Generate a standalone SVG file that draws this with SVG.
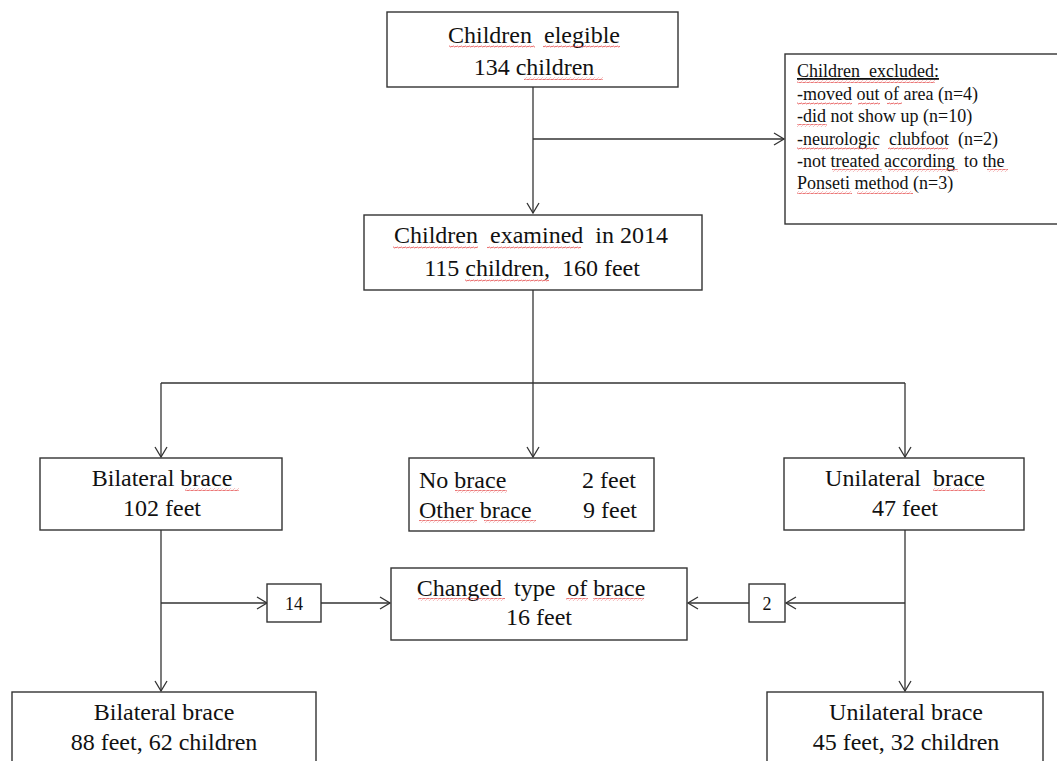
<svg xmlns="http://www.w3.org/2000/svg" width="1057" height="761" viewBox="0 0 1057 761">
<defs>
<style>
.box{fill:#fff;stroke:#333;stroke-width:1.4}
.t{font-family:"Liberation Serif","Times New Roman",serif;font-size:24px;fill:#111}
.s{font-family:"Liberation Serif","Times New Roman",serif;font-size:18px;fill:#111}
.c{text-anchor:middle}
.e{text-anchor:end}
.ln{fill:none;stroke:#333;stroke-width:1.3}
.w{fill:url(#wavy)}
</style>
<marker id="ah" viewBox="-12 -7 14 14" markerWidth="14" markerHeight="14" refX="0" refY="0" orient="auto" markerUnits="userSpaceOnUse">
<path d="M-10,-6 L0,0 L-10,6" fill="none" stroke="#333" stroke-width="1.3"/>
</marker>
<pattern id="wavy" patternUnits="userSpaceOnUse" width="4" height="3">
<path d="M0,2.2 L1,0.8 L3,2.2 L4,0.8" fill="none" stroke="#e23a3a" stroke-width="0.7"/>
</pattern>
</defs>
<rect width="1057" height="761" fill="#fff"/>

<g id="connectors">
<path class="ln" d="M533,87 V213" marker-end="url(#ah)"/>
<path class="ln" d="M533,139 H784" marker-end="url(#ah)"/>
<path class="ln" d="M533,290 V457" marker-end="url(#ah)"/>
<path class="ln" d="M161,383 H905"/>
<path class="ln" d="M161,383 V457" marker-end="url(#ah)"/>
<path class="ln" d="M905,383 V457" marker-end="url(#ah)"/>
<path class="ln" d="M161,530 V691" marker-end="url(#ah)"/>
<path class="ln" d="M161,603 H267" marker-end="url(#ah)"/>
<path class="ln" d="M321,603 H390" marker-end="url(#ah)"/>
<path class="ln" d="M905,530 V691" marker-end="url(#ah)"/>
<path class="ln" d="M905,603 H786" marker-end="url(#ah)"/>
<path class="ln" d="M749,603 H688" marker-end="url(#ah)"/>
</g>

<g id="eligible">
<rect class="box" x="387" y="12" width="291" height="75"/>
<text class="t c" x="534" y="43" xml:space="preserve">Children  elegible</text>
<text class="t c" x="534" y="75">134 children</text>
<rect class="w" x="449" y="45" width="86" height="3"/>
<rect class="w" x="543" y="45" width="77" height="3"/>
<rect class="w" x="524" y="77" width="79" height="3"/>
</g>

<g id="excluded">
<rect class="box" x="785" y="54" width="280" height="170"/>
<text class="s" x="797" y="77" xml:space="preserve" text-decoration="underline">Children  excluded:</text>
<text class="s" x="797" y="100">-moved out of area (n=4)</text>
<text class="s" x="797" y="122">-did not show up (n=10)</text>
<text class="s" x="797" y="145" xml:space="preserve">-neurologic  clubfoot  (n=2)</text>
<text class="s" x="797" y="167" xml:space="preserve">-not treated according  to the</text>
<text class="s" x="797" y="189">Ponseti method (n=3)</text>
<rect class="w" x="797" y="80" width="138" height="3"/>
<rect class="w" x="797" y="102" width="55" height="3"/>
<rect class="w" x="858" y="102" width="22" height="3"/>
<rect class="w" x="887" y="102" width="15" height="3"/>
<rect class="w" x="797" y="124" width="30" height="3"/>
<rect class="w" x="797" y="147" width="80" height="3"/>
<rect class="w" x="888" y="147" width="60" height="3"/>
<rect class="w" x="832" y="169" width="50" height="3"/>
<rect class="w" x="888" y="169" width="70" height="3"/>
<rect class="w" x="987" y="169" width="21" height="3"/>
<rect class="w" x="797" y="191" width="55" height="3"/>
<rect class="w" x="857" y="191" width="56" height="3"/>
</g>

<g id="examined">
<rect class="box" x="364" y="215" width="338" height="75"/>
<text class="t c" x="531" y="243" xml:space="preserve">Children  examined  in 2014</text>
<text class="t c" x="532" y="276" xml:space="preserve">115 children,  160 feet</text>
<rect class="w" x="393" y="246" width="85" height="3"/>
<rect class="w" x="487" y="246" width="94" height="3"/>
<rect class="w" x="465" y="279" width="84" height="3"/>
</g>

<g id="bilateral">
<rect class="box" x="40" y="458" width="242" height="72"/>
<text class="t c" x="162" y="486">Bilateral brace</text>
<text class="t c" x="162" y="516">102 feet</text>
<rect class="w" x="185" y="488" width="54" height="3"/>
</g>

<g id="nobrace">
<rect class="box" x="409" y="458" width="245" height="73"/>
<text class="t" x="419" y="488">No brace</text>
<text class="t e" x="636" y="488">2 feet</text>
<text class="t" x="419" y="518">Other brace</text>
<text class="t e" x="637" y="518">9 feet</text>
<rect class="w" x="455" y="490" width="52" height="3"/>
<rect class="w" x="419" y="520" width="58" height="3"/>
<rect class="w" x="484" y="520" width="52" height="3"/>
</g>

<g id="unilateral">
<rect class="box" x="784" y="458" width="240" height="72"/>
<text class="t c" x="905" y="486" xml:space="preserve">Unilateral  brace</text>
<text class="t c" x="905" y="516">47 feet</text>
<rect class="w" x="933" y="488" width="52" height="3"/>
</g>

<g id="changed">
<rect class="box" x="391" y="568" width="296" height="72"/>
<text class="t c" x="531" y="596" xml:space="preserve">Changed  type  of brace</text>
<text class="t c" x="539" y="625">16 feet</text>
<rect class="w" x="418" y="598" width="87" height="3"/>
<rect class="w" x="566" y="598" width="22" height="3"/>
<rect class="w" x="593" y="598" width="51" height="3"/>
</g>

<g id="n14">
<rect class="box" x="267" y="584" width="54" height="38"/>
<text class="s c" x="294" y="610">14</text>
</g>

<g id="n2">
<rect class="box" x="749" y="584" width="36" height="38"/>
<text class="s c" x="767" y="610">2</text>
</g>

<g id="bilateral-final">
<rect class="box" x="12" y="692" width="304" height="80"/>
<text class="t c" x="164" y="720">Bilateral brace</text>
<text class="t c" x="164" y="750">88 feet, 62 children</text>
</g>

<g id="unilateral-final">
<rect class="box" x="767" y="692" width="276" height="80"/>
<text class="t c" x="906" y="720">Unilateral  brace</text>
<text class="t c" x="906" y="750">45 feet, 32 children</text>
</g>
</svg>
